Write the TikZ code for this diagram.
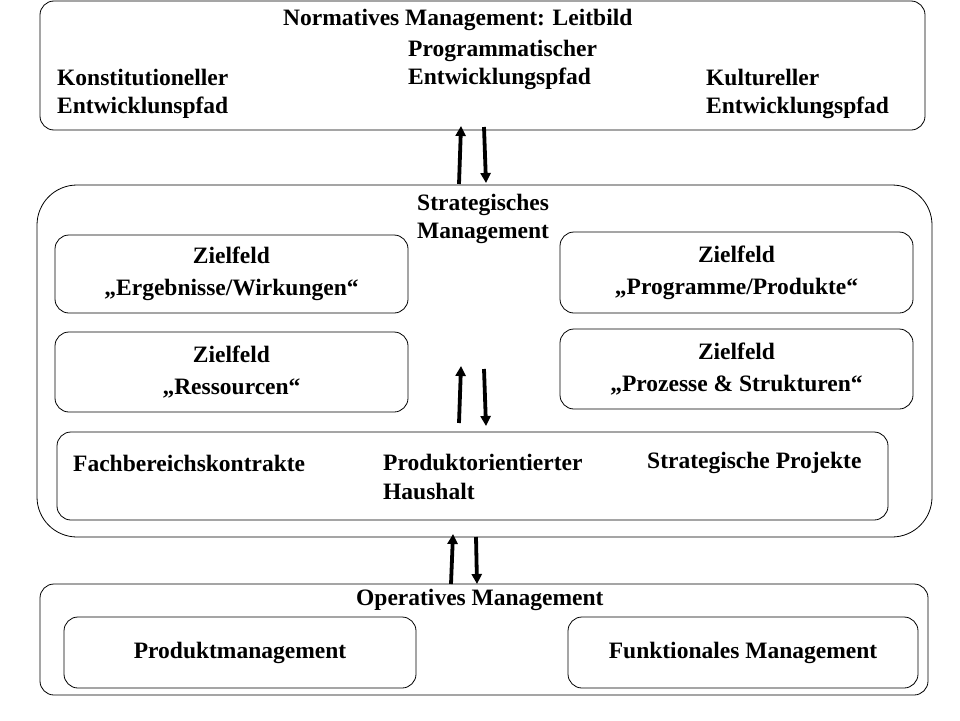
\documentclass[tikz,border=0pt]{standalone}
\usepackage{fontspec}
\setmainfont{Liberation Serif}
\usetikzlibrary{arrows.meta}
\begin{document}
\begin{tikzpicture}[x=1pt,y=-1pt,
  box/.style={draw,rounded corners=14pt,line width=0.8pt},
  lbl/.style={anchor=west,align=left,font=\fontsize{23.5}{28.5}\selectfont\bfseries,inner sep=0pt},
  ctr/.style={align=center,font=\fontsize{23.5}{32}\selectfont\bfseries,inner sep=0pt},
  arr/.style={line width=3.8pt,-{Triangle[length=10pt,width=10pt]}}]
\useasboundingbox (0,0) rectangle (960,720);
\draw[box] (40,1) rectangle (925,130);
\node[lbl] (t1) at (283,20) {Normatives Management: Leitbild};
\node[lbl] (t2) at (408,65) {Programmatischer\\Entwicklungspfad};
\node[lbl] (t3) at (57,94) {Konstitutioneller\\Entwicklunspfad};
\node[lbl] (t4) at (706,94) {Kultureller\\Entwicklungspfad};
\draw[box,rounded corners=40pt] (37,185) rectangle (932,537);
\node[lbl] (s) at (417,219) {Strategisches\\Management};
\draw[box] (55,235) rectangle (408,313) node[ctr,midway] (z1) {Zielfeld\\„Ergebnisse/Wirkungen“};
\draw[box] (55,332) rectangle (408,412) node[ctr,midway] (z2) {Zielfeld\\„Ressourcen“};
\draw[box] (560,232) rectangle (913,313) node[ctr,midway] (z3) {Zielfeld\\„Programme/Produkte“};
\draw[box] (560,329) rectangle (913,409) node[ctr,midway] (z4) {Zielfeld\\„Prozesse \& Strukturen“};
\draw[box] (57,432) rectangle (888,520);
\node[lbl] (f1) at (73,463) {Fachbereichskontrakte};
\node[lbl] (f2) at (383,477) {Produktorientierter\\Haushalt};
\node[lbl] (f3) at (647,463) {Strategische Projekte};
\draw[box] (40,584) rectangle (928,695);
\node[lbl] (o) at (356,600) {Operatives Management};
\draw[box] (64,617) rectangle (416,688) node[ctr,midway] (p1) {Produktmanagement};
\draw[box] (568,617) rectangle (918,688) node[ctr,midway] (p2) {Funktionales Management};
\coordinate (a1) at (459,184); \coordinate (a2) at (461,126);
\coordinate (b1) at (484,127); \coordinate (b2) at (486,183);
\draw[arr] (a1) -- (a2); \draw[arr] (b1) -- (b2);
\coordinate (c1) at (459,423); \coordinate (c2) at (461,366);
\coordinate (d1) at (484,369); \coordinate (d2) at (486,426);
\draw[arr] (c1) -- (c2); \draw[arr] (d1) -- (d2);
\coordinate (e1) at (451,584); \coordinate (e2) at (453,534);
\coordinate (g1) at (476,537); \coordinate (g2) at (477,584);
\draw[arr] (e1) -- (e2); \draw[arr] (g1) -- (g2);
\end{tikzpicture}
\end{document}
